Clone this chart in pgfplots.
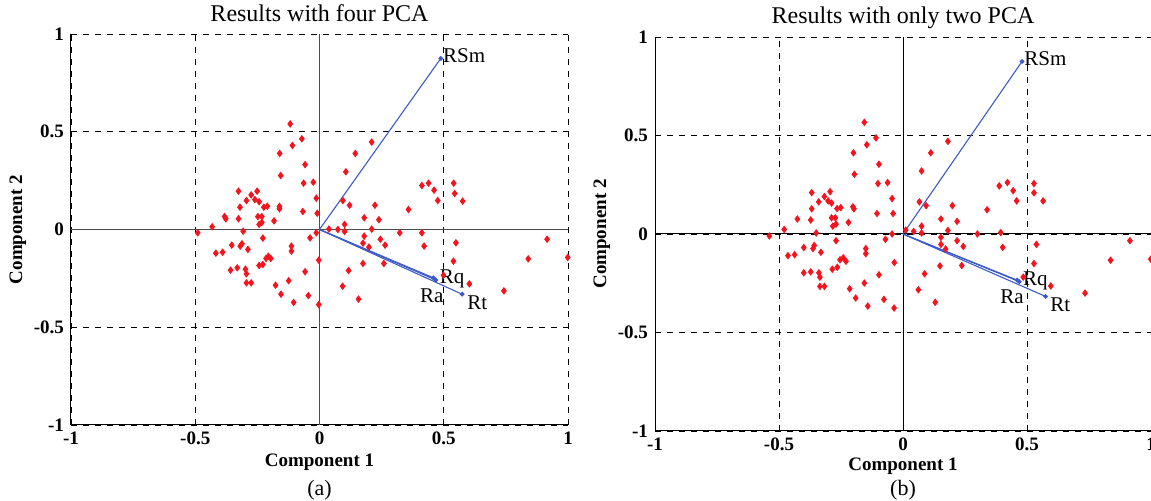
\documentclass[border=0pt]{standalone}
\usepackage{fontspec}
\setmainfont{Liberation Serif}
\usepackage{pgfplots}
\pgfplotsset{compat=1.18}

\definecolor{vecblue}{RGB}{60,90,200}
\definecolor{ptred}{RGB}{245,20,30}

\tikzset{vlab/.style={font=\fontsize{10.5}{11}\selectfont, inner sep=1pt}}

\pgfplotsset{
  biplot/.style={
    scale only axis,
    xmin=-1, xmax=1, ymin=-1, ymax=1,
    xtick={-1,-0.5,0,0.5,1}, ytick={-1,-0.5,0,0.5,1},
    axis lines=left, axis line style={-, black, line width=0.5pt},
    tick align=inside, major tick length=3pt, tick style={black, line width=0.4pt},
    grid=major, major grid style={dashed, black, line width=0.45pt},
    /pgf/number format/assume math mode=true,
    tick label style={font=\fontsize{9.5}{10}\selectfont\bfseries},
    xlabel={Component 1}, ylabel={Component 2},
    label style={font=\fontsize{9.5}{10}\selectfont\bfseries},
    ylabel style={at={(axis description cs:-0.107,0.5)}, anchor=center},
    title style={font=\fontsize{12}{13}\selectfont, at={(axis description cs:0.5,1)}, anchor=center},
    clip=false,
  },
  pts/.style={only marks, mark=diamond*, mark size=1.6pt, color=ptred, mark options={draw=ptred, fill=ptred}},
  vec/.style={vecblue, line width=0.55pt, mark=*, mark size=0.9pt, mark indices={2}, mark options={fill=vecblue, draw=vecblue}},
}

\begin{document}
\begin{tikzpicture}
\path[use as bounding box] (-35.5pt,-38pt) rectangle (540pt,212.5pt);

% (a) four components
\begin{axis}[biplot, width=248.5pt, height=195.5pt, at={(0pt,0pt)}, anchor=south west,
  title={Results with four PCA}, title style={yshift=4.5pt},
  xlabel style={at={(axis description cs:0.5,0)}, anchor=center, yshift=-18.5pt}]
\draw[black!70, line width=0.5pt] (axis cs:0,-1) -- (axis cs:0,1);
\draw[black!70, line width=0.5pt] (axis cs:-1,0) -- (axis cs:1,0);
\addplot[pts] table {
-0.118 0.54
-0.071 0.464
-0.109 0.43
-0.16 0.389
-0.058 0.332
-0.156 0.276
-0.064 0.237
-0.025 0.242
-0.326 0.196
-0.275 0.177
-0.251 0.196
-0.294 0.148
-0.26 0.153
-0.243 0.142
-0.013 0.16
-0.32 0.114
-0.224 0.114
-0.21 0.119
-0.161 0.118
-0.161 0.106
-0.382 0.066
-0.377 0.055
-0.326 0.055
-0.248 0.066
-0.232 0.066
-0.243 0.026
-0.232 0.036
-0.183 0.044
-0.067 0.092
-0.009 0.083
-0.432 0.014
-0.49 -0.017
-0.307 -0.009
-0.013 -0.017
-0.038 -0.043
-0.228 -0.044
-0.353 -0.08
-0.312 -0.073
-0.319 -0.085
-0.288 -0.102
-0.417 -0.121
-0.39 -0.116
-0.113 -0.085
-0.113 -0.111
-0.206 -0.137
-0.196 -0.148
-0.215 -0.148
-0.228 -0.179
-0.243 -0.184
-0.003 -0.157
-0.358 -0.208
-0.331 -0.196
-0.298 -0.203
-0.294 -0.227
-0.058 -0.216
-0.294 -0.273
-0.275 -0.273
-0.177 -0.285
-0.124 -0.262
-0.155 -0.331
-0.104 -0.373
-0.045 -0.338
-0.003 -0.384
0.21 0.447
0.144 0.389
0.106 0.295
0.094 0.148
0.121 0.124
0.223 0.124
0.18 0.06
0.239 0.05
0.038 0.002
0.074 0
0.101 0.026
0.101 -0.01
0.21 0.002
0.18 -0.034
0.175 -0.07
0.199 -0.09
0.245 -0.05
0.264 -0.08
0.175 -0.174
0.117 -0.21
0.093 -0.29
0.157 -0.356
0.412 0.225
0.439 0.237
0.461 0.201
0.476 0.148
0.54 0.237
0.544 0.184
0.576 0.145
0.358 0.102
0.323 -0.017
0.412 -0.017
0.421 -0.085
0.549 -0.068
0.259 -0.174
0.539 -0.162
0.916 -0.05
0.84 -0.15
0.999 -0.143
0.499 -0.234
0.603 -0.278
0.742 -0.314
};
\addplot[vec] coordinates {(0,0) (0.488,0.875)};
\addplot[vec] coordinates {(0,0) (0.458,-0.247)};
\addplot[vec] coordinates {(0,0) (0.468,-0.258)};
\addplot[vec] coordinates {(0,0) (0.574,-0.331)};
\node[vlab, anchor=west] at (axis cs:0.488,0.89) {RSm};
\node[vlab, anchor=west] at (axis cs:0.475,-0.255) {Rq};
\node[vlab, anchor=north] at (axis cs:0.452,-0.29) {Ra};
\node[vlab, anchor=north west] at (axis cs:0.585,-0.325) {Rt};
\node[font=\fontsize{11}{12}\selectfont] at (axis description cs:0.5,0) [yshift=-32.5pt] {(a)};
\end{axis}

% (b) two components
\begin{axis}[biplot, width=248pt, height=197pt, at={(292pt,-3pt)}, anchor=south west,
  title={Results with only two PCA}, title style={yshift=3.5pt},
  xlabel style={at={(axis description cs:0.5,0)}, anchor=center, yshift=-17.5pt}]
\draw[black, line width=0.5pt] (axis cs:0,-1) -- (axis cs:0,1);
\draw[black, line width=0.5pt] (axis cs:-1,0) -- (axis cs:1,0);
\addplot[pts] table {
-0.156 0.567
-0.109 0.488
-0.146 0.453
-0.2 0.412
-0.097 0.354
-0.196 0.303
-0.101 0.256
-0.062 0.261
-0.368 0.21
-0.294 0.215
-0.317 0.19
-0.34 0.163
-0.302 0.168
-0.288 0.157
-0.044 0.18
-0.368 0.128
-0.266 0.129
-0.251 0.134
-0.202 0.138
-0.198 0.128
-0.426 0.076
-0.372 0.071
-0.288 0.082
-0.273 0.082
-0.283 0.04
-0.27 0.05
-0.22 0.059
-0.105 0.104
-0.04 0.104
-0.479 0.023
-0.539 -0.01
-0.35 0.005
-0.044 0
-0.071 -0.027
-0.27 -0.034
-0.4 -0.069
-0.358 -0.058
-0.363 -0.074
-0.331 -0.093
-0.464 -0.11
-0.437 -0.105
-0.15 -0.074
-0.15 -0.1
-0.241 -0.121
-0.254 -0.131
-0.23 -0.138
-0.265 -0.169
-0.285 -0.179
-0.035 -0.145
-0.4 -0.197
-0.372 -0.192
-0.339 -0.197
-0.335 -0.219
-0.097 -0.207
-0.335 -0.266
-0.317 -0.266
-0.215 -0.278
-0.156 -0.249
-0.191 -0.325
-0.142 -0.366
-0.077 -0.332
-0.036 -0.376
0.181 0.47
0.112 0.412
0.075 0.32
0.066 0.163
0.093 0.144
0.199 0.144
0.153 0.076
0.218 0.064
0.011 0.02
0.043 0.013
0.075 0.04
0.075 0.005
0.181 0.018
0.153 -0.017
0.153 -0.053
0.172 -0.076
0.218 -0.034
0.149 -0.162
0.087 -0.202
0.062 -0.283
0.13 -0.347
0.388 0.244
0.421 0.261
0.444 0.22
0.458 0.168
0.528 0.256
0.528 0.209
0.565 0.168
0.339 0.123
0.3 0
0.394 0.007
0.243 -0.063
0.402 -0.068
0.538 -0.053
0.237 -0.16
0.528 -0.15
0.915 -0.034
0.837 -0.133
0.999 -0.128
0.485 -0.219
0.596 -0.264
0.734 -0.3
};
\addplot[vec] coordinates {(0,0) (0.48,0.876)};
\addplot[vec] coordinates {(0,0) (0.46,-0.234)};
\addplot[vec] coordinates {(0,0) (0.469,-0.242)};
\addplot[vec] coordinates {(0,0) (0.575,-0.317)};
\node[vlab, anchor=west] at (axis cs:0.48,0.89) {RSm};
\node[vlab, anchor=west] at (axis cs:0.475,-0.24) {Rq};
\node[vlab, anchor=north] at (axis cs:0.44,-0.27) {Ra};
\node[vlab, anchor=north west] at (axis cs:0.585,-0.31) {Rt};
\node[font=\fontsize{11}{12}\selectfont] at (axis description cs:0.5,0) [yshift=-29.5pt] {(b)};
\end{axis}
\end{tikzpicture}
\end{document}
